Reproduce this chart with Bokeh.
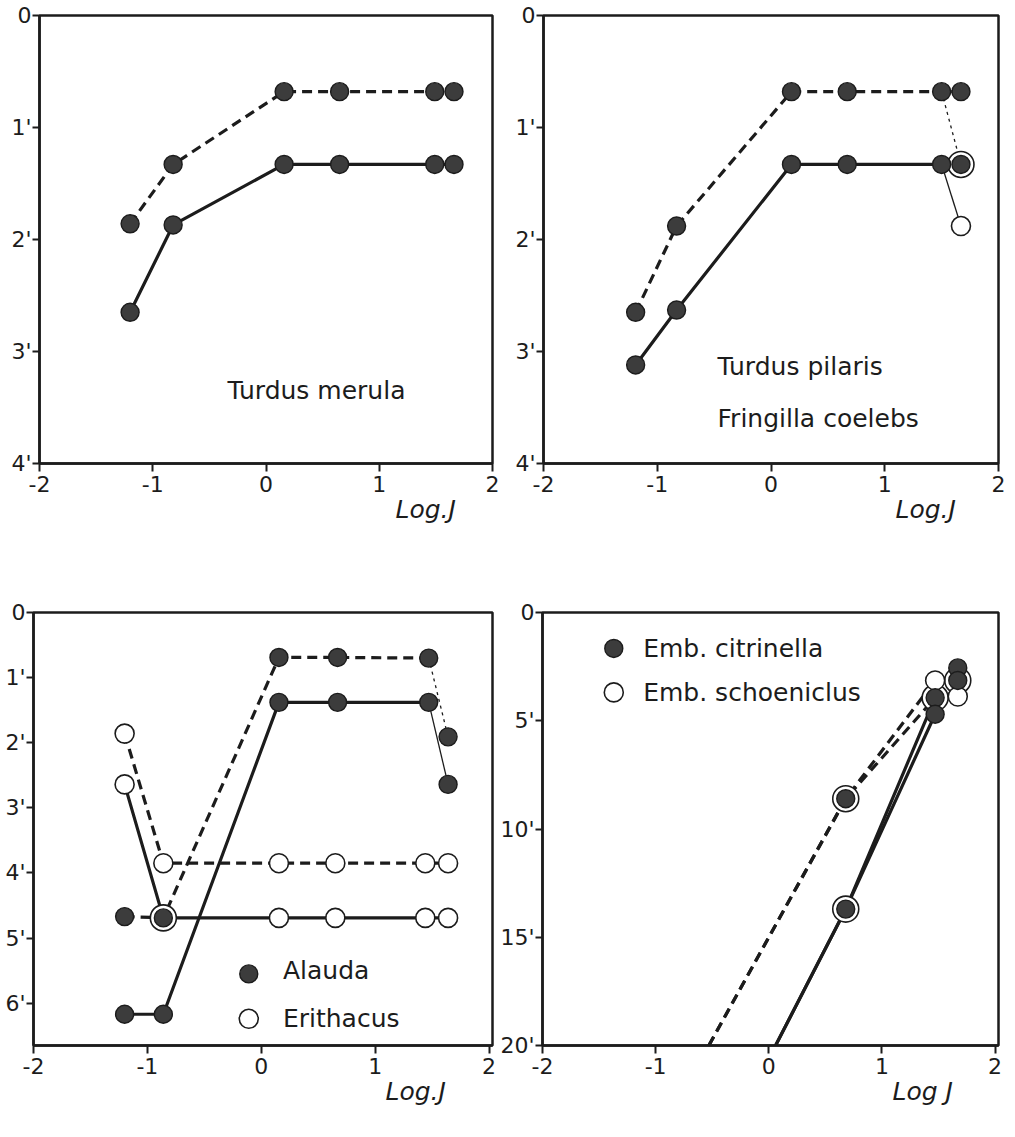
from bokeh.plotting import figure
from bokeh.layouts import column, row
from bokeh.models import Range1d, FixedTicker, Label, Title
from bokeh.embed import file_html
from bokeh.resources import INLINE

# ---------------- data (x = Log J, y = minutes) ----------------
# Panel A: Turdus merula
a_x = [-1.20, -0.82, 0.16, 0.65, 1.49, 1.66]
a_dash = [1.86, 1.33, 0.68, 0.68, 0.68, 0.68]
a_solid = [2.65, 1.87, 1.33, 1.33, 1.33, 1.33]

# Panel B: Turdus pilaris (filled) / Fringilla coelebs (open, last intensity)
b_x = [-1.19, -0.83, 0.18, 0.67, 1.50, 1.67]
b_dash = [2.65, 1.88, 0.68, 0.68, 0.68, 0.68]
b_solid = [3.12, 2.63, 1.33, 1.33, 1.33, 1.33]
b_fring_x = [1.50, 1.67]
b_fring_dash = [0.68, 1.33]
b_fring_solid = [1.33, 1.88]

# Panel C: Alauda (filled) / Erithacus (open)
c_alauda_x = [-1.20, -0.86, 0.155, 0.67, 1.47, 1.64]
c_alauda_dash = [4.67, 4.69, 0.69, 0.69, 0.70, 1.91]
c_alauda_solid = [6.17, 6.17, 1.38, 1.38, 1.38, 2.64]
c_erith_x = [-1.20, -0.86, 0.155, 0.65, 1.44, 1.64]
c_erith_dash = [1.86, 3.85, 3.85, 3.85, 3.85, 3.85]
c_erith_solid = [2.64, 4.69, 4.69, 4.69, 4.69, 4.69]

# Panel D: Emb. citrinella (filled) / Emb. schoeniclus (open)
d_x = [0.68, 1.47, 1.67]
d_citr_dash = [8.6, 3.94, 2.56]
d_citr_solid = [13.7, 4.70, 3.14]
d_schoen_dash = [8.6, 3.14, 3.14]
d_schoen_solid = [13.7, 3.94, 3.88]
d_edge_y = 20.0          # curves leave the frame at the 20' edge
d_dash_edge_x = -0.53
d_solid_edge_x = 0.06

x_ticks = [-2, -1, 0, 1, 2]
x_labels = ["-2", "-1", "0", "1", "2"]
ticks_4 = [0, 1, 2, 3, 4]
labels_4 = ["0", "1'", "2'", "3'", "4'"]
ticks_6 = [0, 1, 2, 3, 4, 5, 6]
labels_6 = ["0", "1'", "2'", "3'", "4'", "5'", "6'"]
ticks_20 = [0, 5, 10, 15, 20]
labels_20 = ["0", "5'", "10'", "15'", "20'"]

# ---------------- styling ----------------
FONT = "DejaVu Sans"
INK = "#1c1c1c"
DOT = "#3c3c3c"
DASH = "10 6"
DOTTED = "3 4"
LW = 3.2
THIN = 1.3
MS = 18
RING = 26


def make_fig(width, height, xr, ymax, yticks, ylabels, borders):
    l, r, t, b = borders
    p = figure(width=width, height=height, x_range=Range1d(*xr),
               y_range=Range1d(ymax, 0), output_backend="svg",
               toolbar_location=None, min_border_left=l, min_border_right=r,
               min_border_top=t, min_border_bottom=b)
    p.grid.visible = False
    p.background_fill_color = "white"
    p.border_fill_color = "white"
    p.outline_line_color = INK
    p.outline_line_width = 2.5
    p.outline_line_alpha = 1.0
    for ax in (p.xaxis[0], p.yaxis[0]):
        ax.axis_line_width = 2.5
        ax.axis_line_color = INK
        ax.major_tick_line_width = 2
        ax.major_tick_line_color = INK
        ax.major_tick_in = 0
        ax.minor_tick_in = 0
        ax.minor_tick_out = 0
        ax.major_label_text_font = FONT
        ax.major_label_text_font_size = "22px"
        ax.major_label_text_color = INK
    p.xaxis.ticker = FixedTicker(ticks=x_ticks)
    p.xaxis.major_label_overrides = {t_: s for t_, s in zip(x_ticks, x_labels)}
    p.xaxis.major_tick_out = 8
    p.xaxis.major_label_standoff = 4
    p.yaxis.ticker = FixedTicker(ticks=yticks)
    p.yaxis.major_label_overrides = {t_: s for t_, s in zip(yticks, ylabels)}
    p.yaxis.major_tick_out = 7
    p.yaxis.major_label_standoff = 1
    return p


def line(p, x, y, dash=False, thin=False, dotted=False):
    kw = dict(line_color=INK, line_width=THIN if thin else LW)
    if dotted:
        kw["line_dash"] = DOTTED
    elif dash:
        kw["line_dash"] = DASH
    p.line(x, y, **kw)


def markers(p, filled, opened, ytol):
    """filled/opened: lists of (x, y). Coinciding points get a ringed dot."""
    rings, plain_open = [], []
    for (ox, oy) in opened:
        hit = any(abs(ox - fx) < 0.05 and abs(oy - fy) < ytol for fx, fy in filled)
        (rings if hit else plain_open).append((ox, oy))
    if rings:
        p.scatter([q[0] for q in rings], [q[1] for q in rings], size=RING,
                  marker="circle", fill_color="white", line_color=INK, line_width=1.6)
    if plain_open:
        p.scatter([q[0] for q in plain_open], [q[1] for q in plain_open], size=MS + 1,
                  marker="circle", fill_color="white", line_color=INK, line_width=1.6)
    if filled:
        p.scatter([q[0] for q in filled], [q[1] for q in filled], size=MS,
                  marker="circle", fill_color=DOT, line_color=INK, line_width=1.4)


def text(p, x, y, s, size="25px"):
    p.add_layout(Label(x=x, y=y, text=s, text_font=FONT, text_font_size=size,
                       text_color=INK, text_align="left", text_baseline="middle"))


def logj(p, s, offset):
    p.add_layout(Title(text=s, align="left", offset=offset, standoff=0,
                       text_font=FONT, text_font_size="25px", text_font_style="italic",
                       text_color=INK, vertical_align="top"), "below")


def pts(x, y):
    return list(zip(x, y))


# ---------------- Panel A ----------------
pa = make_fig(508, 588, (-2, 2), 4, ticks_4, labels_4, (39, 16, 15, 125))
line(pa, a_x, a_dash, dash=True)
line(pa, a_x, a_solid)
markers(pa, pts(a_x, a_dash) + pts(a_x, a_solid), [], 0.05)
text(pa, -0.34, 3.35, "Turdus merula")
logj(pa, "Log.J", 356)

# ---------------- Panel B ----------------
pb = make_fig(500, 588, (-2, 2), 4, ticks_4, labels_4, (35, 10, 15, 125))
line(pb, b_x, b_dash, dash=True)
line(pb, b_x, b_solid)
line(pb, b_fring_x, b_fring_dash, thin=True, dotted=True)
line(pb, b_fring_x, b_fring_solid, thin=True)
markers(pb, pts(b_x, b_dash) + pts(b_x, b_solid),
        [(b_fring_x[-1], b_fring_dash[-1]), (b_fring_x[-1], b_fring_solid[-1])], 0.05)
text(pb, -0.47, 3.13, "Turdus pilaris")
text(pb, -0.47, 3.60, "Fringilla coelebs")
logj(pb, "Log.J", 352)

# ---------------- Panel C ----------------
pc = make_fig(497, 540, (-2, 2.03), 6.65, ticks_6, labels_6, (33, 5, 22, 83))
line(pc, c_alauda_x[:5], c_alauda_dash[:5], dash=True)
line(pc, c_alauda_x[4:], c_alauda_dash[4:], thin=True, dotted=True)
line(pc, c_alauda_x[:5], c_alauda_solid[:5])
line(pc, c_alauda_x[4:], c_alauda_solid[4:], thin=True)
line(pc, c_erith_x, c_erith_dash, dash=True)
line(pc, c_erith_x, c_erith_solid)
markers(pc, pts(c_alauda_x, c_alauda_dash) + pts(c_alauda_x, c_alauda_solid),
        pts(c_erith_x, c_erith_dash) + pts(c_erith_x, c_erith_solid), 0.08)
pc.scatter([-0.11], [5.55], size=MS, marker="circle", fill_color=DOT, line_color=INK, line_width=1.4)
pc.scatter([-0.11], [6.24], size=MS + 1, marker="circle", fill_color="white", line_color=INK, line_width=1.6)
text(pc, 0.19, 5.50, "Alauda")
text(pc, 0.19, 6.24, "Erithacus")
logj(pc, "Log.J", 352)

# ---------------- Panel D ----------------
pd_ = make_fig(511, 540, (-2, 2.03), 20, ticks_20, labels_20, (45, 10, 24, 82))
for ys in (d_citr_dash, d_schoen_dash):
    line(pd_, [d_dash_edge_x] + d_x[:2], [d_edge_y] + ys[:2], dash=True)
for ys in (d_citr_solid, d_schoen_solid):
    line(pd_, [d_solid_edge_x] + d_x[:2], [d_edge_y] + ys[:2])
markers(pd_, pts(d_x, d_citr_dash) + pts(d_x, d_citr_solid),
        pts(d_x, d_schoen_dash) + pts(d_x, d_schoen_solid), 0.25)
pd_.scatter([-1.37], [1.66], size=MS, marker="circle", fill_color=DOT, line_color=INK, line_width=1.4)
pd_.scatter([-1.37], [3.69], size=MS + 1, marker="circle", fill_color="white", line_color=INK, line_width=1.6)
text(pd_, -1.11, 1.66, "Emb. citrinella")
text(pd_, -1.11, 3.69, "Emb. schoeniclus")
logj(pd_, "Log J", 350)

layout = column(row(pa, pb), row(pc, pd_))
open("out.html", "w").write(file_html(layout, INLINE))
